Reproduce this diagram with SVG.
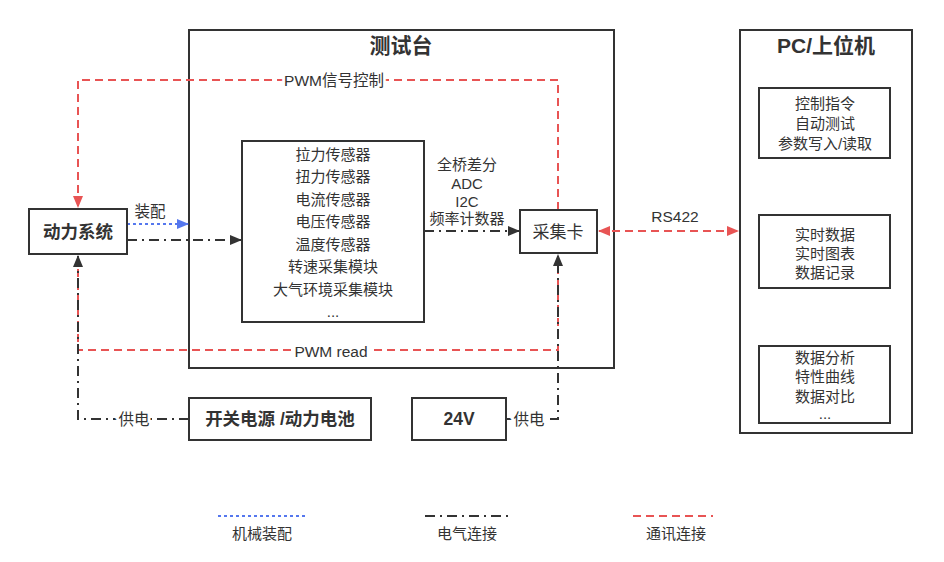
<svg xmlns="http://www.w3.org/2000/svg" width="944" height="562" viewBox="0 0 944 562">
<style>
text{font-family:"Liberation Sans","Noto Sans CJK SC",sans-serif;fill:#333;text-anchor:middle;dominant-baseline:central}
.box{fill:#fff;stroke:#333;stroke-width:2}
.frame{fill:none;stroke:#333;stroke-width:2}
.t{font-size:15px}
.b{font-size:17.5px;font-weight:bold}
.h{font-size:21px;font-weight:bold}
.red{fill:none;stroke:#e85454;stroke-width:2;stroke-dasharray:8 5}
.blk{fill:none;stroke:#333;stroke-width:2;stroke-dasharray:10 5 2 5}
.blu{fill:none;stroke:#5577ee;stroke-width:2;stroke-dasharray:3 3}
.lbl{font-size:15.5px;paint-order:stroke;stroke:#fff;stroke-width:6px}
</style>
<defs>
<marker id="ar" viewBox="0 0 12 10" refX="11" refY="5" markerWidth="12" markerHeight="10" markerUnits="userSpaceOnUse" orient="auto-start-reverse"><path d="M0,0L12,5L0,10z" fill="#e85454"/></marker>
<marker id="ak" viewBox="0 0 12 10" refX="11" refY="5" markerWidth="12" markerHeight="10" markerUnits="userSpaceOnUse" orient="auto-start-reverse"><path d="M0,0L12,5L0,10z" fill="#333"/></marker>
<marker id="ab" viewBox="0 0 12 10" refX="11" refY="5" markerWidth="12" markerHeight="10" markerUnits="userSpaceOnUse" orient="auto-start-reverse"><path d="M0,0L12,5L0,10z" fill="#5577ee"/></marker>
</defs>
<rect width="944" height="562" fill="#fff"/>
<g id="testbench">
<rect class="frame" x="189" y="30" width="425" height="338"/>
<text class="h" x="401" y="45">测试台</text>
</g>
<g id="pc">
<rect class="frame" x="740" y="30" width="172" height="403"/>
<text class="h" x="826" y="45">PC/上位机</text>
</g>
<g id="connectors">
<path class="red" d="M558,210V80H78V207" marker-end="url(#ar)"/>
<path class="red" d="M78,256V350H558V256"/>
<path class="red" d="M599,231H738" marker-start="url(#ar)" marker-end="url(#ar)"/>
<path class="blk" d="M189,419H78V256" marker-end="url(#ak)"/>
<path class="blk" d="M506,419H558V255" marker-end="url(#ak)"/>
<path class="blu" d="M127,224H188" marker-end="url(#ab)"/>
<path class="blk" d="M127,240H241" marker-end="url(#ak)"/>
<path class="blk" d="M424,231H519" marker-end="url(#ak)"/>
<text class="lbl" x="334" y="80">PWM信号控制</text>
<text class="lbl" x="331" y="351">PWM read</text>
<text class="lbl" x="134" y="419">供电</text>
<text class="lbl" x="529" y="419">供电</text>
<text class="lbl" x="150" y="211">装配</text>
<text class="lbl" x="675" y="216">RS422</text>
<text class="t" x="467" y="164">全桥差分</text>
<text class="t" x="467" y="183">ADC</text>
<text class="t" x="467" y="201">I2C</text>
<text class="t" x="467" y="218">频率计数器</text>
</g>
<g id="power-system">
<rect class="box" x="29" y="209" width="98" height="45"/>
<text class="b" x="78" y="232">动力系统</text>
</g>
<g id="sensors">
<rect class="box" x="242" y="141" width="182" height="181"/>
<text class="t" x="333" y="154">拉力传感器</text>
<text class="t" x="333" y="176">扭力传感器</text>
<text class="t" x="333" y="199">电流传感器</text>
<text class="t" x="333" y="221">电压传感器</text>
<text class="t" x="333" y="244">温度传感器</text>
<text class="t" x="333" y="266">转速采集模块</text>
<text class="t" x="333" y="289">大气环境采集模块</text>
<text class="t" x="333" y="311">...</text>
</g>
<g id="daq">
<rect class="box" x="520" y="210" width="77" height="43"/>
<text x="558" y="232" style="font-size:17px">采集卡</text>
</g>
<g id="psu">
<rect class="box" x="189" y="398" width="182" height="42"/>
<text class="b" x="280" y="419">开关电源 /动力电池</text>
</g>
<g id="v24">
<rect class="box" x="412" y="398" width="94" height="42"/>
<text class="b" x="459" y="419">24V</text>
</g>
<g id="pc-control">
<rect class="box" x="759" y="88" width="131" height="70"/>
<text class="t" x="825" y="103">控制指令</text>
<text class="t" x="825" y="123">自动测试</text>
<text class="t" x="825" y="143">参数写入/读取</text>
</g>
<g id="pc-realtime">
<rect class="box" x="759" y="215" width="131" height="73"/>
<text class="t" x="825" y="234">实时数据</text>
<text class="t" x="825" y="253">实时图表</text>
<text class="t" x="825" y="272">数据记录</text>
</g>
<g id="pc-analysis">
<rect class="box" x="759" y="346" width="131" height="77"/>
<text class="t" x="825" y="357">数据分析</text>
<text class="t" x="825" y="376">特性曲线</text>
<text class="t" x="825" y="396">数据对比</text>
<text class="t" x="825" y="413">...</text>
</g>
<g id="legend">
<path class="blu" d="M218,516H305"/>
<text class="t" x="262" y="533">机械装配</text>
<path class="blk" d="M425,516H508"/>
<text class="t" x="467" y="533">电气连接</text>
<path class="red" d="M633,516H713"/>
<text class="t" x="676" y="533">通讯连接</text>
</g>
</svg>
